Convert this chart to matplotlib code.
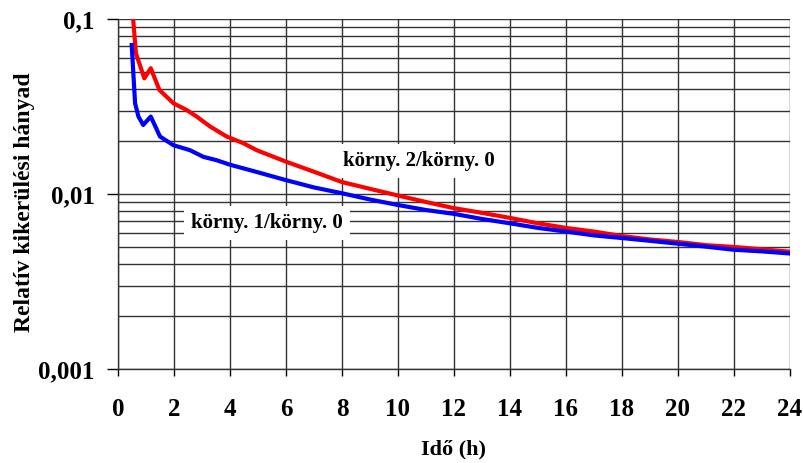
"""Relatív kikerülési hányad vs. idő (log scale)."""

import matplotlib
matplotlib.use("Agg")
import matplotlib.pyplot as plt
from matplotlib.ticker import FixedLocator, FuncFormatter, LogLocator, NullFormatter

plt.rcParams["font.family"] = ["Liberation Serif", "DejaVu Serif"]
plt.rcParams["font.weight"] = "bold"

# körny. 2 / körny. 0 (red)
red_x = [0.53, 0.64, 0.94, 1.17, 1.48, 1.98, 2.45, 2.81, 3.29, 3.88, 4.48, 4.95,
         6, 7, 8, 9, 10, 11, 12, 13, 14, 15, 16, 17, 18, 19, 20, 21, 22, 23, 24]
red_y = [0.105, 0.0637, 0.0458, 0.0523, 0.0393, 0.033, 0.0302, 0.0277, 0.0243, 0.0213,
         0.0195, 0.0178, 0.0153, 0.0134, 0.0117, 0.0107, 0.0098, 0.0090, 0.0083, 0.0078,
         0.0073, 0.0068, 0.0064, 0.0061, 0.00575, 0.0055, 0.00532, 0.0051, 0.00498,
         0.00483, 0.00468]

# körny. 1 / körny. 0 (blue)
blue_x = [0.49, 0.61, 0.73, 0.9, 1.17, 1.5, 1.98, 2.57, 3.05, 3.52, 4, 5, 6, 7, 8, 9,
          10, 11, 12, 13, 14, 15, 16, 17, 18, 19, 20, 21, 22, 23, 24]
blue_y = [0.071, 0.033, 0.0277, 0.0248, 0.0277, 0.0213, 0.019, 0.0178, 0.0163, 0.0156,
          0.0147, 0.0133, 0.012, 0.0109, 0.0101, 0.0093, 0.00865, 0.0081, 0.0077, 0.0072,
          0.0068, 0.0064, 0.0061, 0.0058, 0.0056, 0.0054, 0.0052, 0.0050, 0.0048, 0.0047,
          0.00457]

x_ticks = list(range(0, 25, 2))
y_ticks = [0.001, 0.01, 0.1]
y_labels = ["0,001", "0,01", "0,1"]

fig = plt.figure(figsize=(8.04, 4.63), dpi=100)
ax = fig.add_axes([118 / 804, 1 - 369 / 463, 672 / 804, 350 / 463])

ax.set_yscale("log")
ax.set_xlim(0, 24)
ax.set_ylim(0.001, 0.1)

ax.xaxis.set_major_locator(FixedLocator(x_ticks))
ax.yaxis.set_major_locator(FixedLocator(y_ticks))
ax.yaxis.set_major_formatter(FuncFormatter(lambda v, p: y_labels[y_ticks.index(min(y_ticks, key=lambda t: abs(t - v)))]))
ax.yaxis.set_minor_locator(LogLocator(base=10, subs=range(2, 10)))
ax.yaxis.set_minor_formatter(NullFormatter())

ax.grid(True, which="major", axis="both", color="#333333", linewidth=1.0)
ax.grid(True, which="minor", axis="y", color="#333333", linewidth=1.0)
ax.set_axisbelow(True)

ax.plot(red_x, red_y, color="#ff0000", linewidth=3.0, solid_joinstyle="round")
ax.plot(blue_x, blue_y, color="#0000ff", linewidth=3.0, solid_joinstyle="round")

for s in ["top", "right"]:
    ax.spines[s].set_visible(False)
for s in ["left", "bottom"]:
    ax.spines[s].set_color("#333333")
    ax.spines[s].set_linewidth(1.0)

ax.tick_params(axis="x", which="major", direction="out", length=5, width=1,
               pad=16, labelsize=18)
ax.tick_params(axis="y", which="major", direction="out", length=8, width=1,
               pad=9, labelsize=18)
ax.tick_params(axis="y", which="minor", length=0)
for lab in ax.get_xticklabels() + ax.get_yticklabels():
    lab.set_fontweight("bold")

box = dict(facecolor="white", edgecolor="none", pad=5)
ax.text(10.75, 0.01545, "körny. 2/körny. 0", fontsize=15, fontweight="bold",
        ha="center", va="center", bbox=box)
ax.text(5.32, 0.00683, "körny. 1/körny. 0", fontsize=15, fontweight="bold",
        ha="center", va="center", bbox=box)

ax.set_xlabel("Idő (h)", fontsize=16, fontweight="bold", labelpad=13)
ax.set_ylabel("Relatív kikerülési hányad", fontsize=17, fontweight="bold")
ax.yaxis.set_label_coords(-0.1235, 0.477)

fig.savefig("out.png", dpi=100)
